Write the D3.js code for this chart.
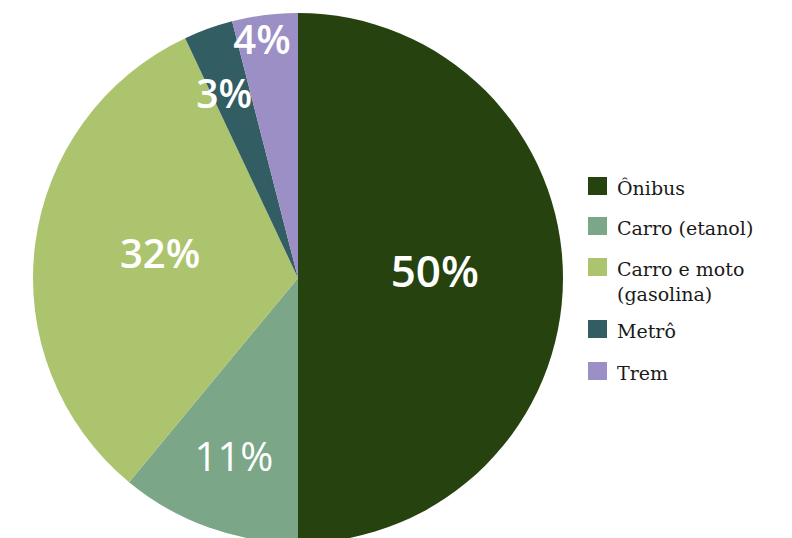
<!DOCTYPE html>
<html>
<head>
<meta charset="utf-8">
<script src="https://cdn.jsdelivr.net/npm/d3@7"></script>
<style>
  html, body { margin: 0; padding: 0; background: #fff; }
  svg { display: block; }
</style>
</head>
<body>
<svg id="chart" width="792" height="538"></svg>
<script>
// Modal share of transport
const categories = ["Ônibus", "Carro (etanol)", "Carro e moto (gasolina)", "Metrô", "Trem"];
const legendLines = [["Ônibus"], ["Carro (etanol)"], ["Carro e moto", "(gasolina)"], ["Metrô"], ["Trem"]];
const values = [50, 11, 32, 3, 4];
const colors = ["#25420f", "#7ba688", "#adc46e", "#325d63", "#9b8fc5"];

const svg = d3.select("#chart");
const cx = 298, cy = 278, R = 265;

const pie = d3.pie().sort(null).value(d => d)(values);
const arc = d3.arc().innerRadius(0).outerRadius(R);

const g = svg.append("g").attr("transform", `translate(${cx},${cy})`);

g.selectAll("path.slice")
  .data(pie)
  .join("path")
  .attr("class", "slice")
  .attr("d", arc)
  .attr("fill", (d, i) => colors[i]);

// label placement: radius (px) and angular nudge (deg) from each slice's mid-angle
const labelRadius = [137, 190, 140, 198, 241];
const labelNudge = [-2.9, -0.1, 2.7, -2.1, -1.4];
const labelSize = [44, 40, 40, 39, 40];
const labelWeight = [600, 400, 600, 600, 600];

g.selectAll("text.pct")
  .data(pie)
  .join("text")
  .attr("class", "pct")
  .attr("transform", (d, i) => {
    const a = (d.startAngle + d.endAngle) / 2 + labelNudge[i] * Math.PI / 180;
    const r = labelRadius[i];
    return `translate(${r * Math.sin(a)},${-r * Math.cos(a)})`;
  })
  .attr("text-anchor", "middle")
  .attr("dy", "0.36em")
  .attr("fill", "#ffffff")
  .style("font-family", "'Open Sans', sans-serif")
  .style("font-size", (d, i) => labelSize[i] + "px")
  .style("font-weight", (d, i) => labelWeight[i])
  .text(d => d.value + "%");

// legend
const legendY = d3.scaleOrdinal().domain(categories).range([177, 217, 258, 320, 362]);
const legend = svg.append("g").attr("transform", "translate(588,0)");
const items = legend.selectAll("g.item")
  .data(categories)
  .join("g")
  .attr("class", "item")
  .attr("transform", d => `translate(0,${legendY(d)})`);

items.append("rect")
  .attr("width", 19)
  .attr("height", 18)
  .attr("fill", (d, i) => colors[i]);

items.each(function (d, i) {
  const t = d3.select(this).append("text")
    .attr("x", 29)
    .attr("y", 18)
    .attr("fill", "#1a1a1a")
    .style("font-family", "'DejaVu Serif', serif")
    .style("font-size", "19px");
  legendLines[i].forEach((line, j) => {
    t.append("tspan").attr("x", 29).attr("dy", j === 0 ? 0 : 25).text(line);
  });
});
</script>
</body>
</html>
